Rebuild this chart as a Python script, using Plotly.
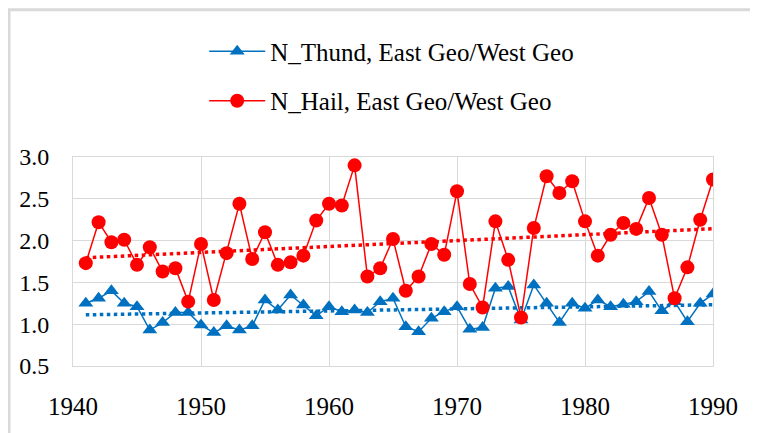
import numpy as np
import plotly.graph_objects as go

years = list(range(1941, 1991))

n_thund = [1.25, 1.31, 1.40, 1.25, 1.21, 0.93, 1.02, 1.14, 1.14, 0.99,
           0.90, 0.98, 0.93, 0.98, 1.29, 1.17, 1.35, 1.23, 1.10, 1.21,
           1.15, 1.17, 1.14, 1.27, 1.31, 0.97, 0.91, 1.07, 1.15, 1.21,
           0.94, 0.96, 1.43, 1.45, 1.05, 1.47, 1.25, 1.02, 1.25, 1.19,
           1.29, 1.21, 1.24, 1.27, 1.39, 1.16, 1.27, 1.03, 1.25, 1.36]

n_hail = [1.73, 2.22, 1.98, 2.01, 1.71, 1.92, 1.63, 1.67, 1.27, 1.96,
          1.29, 1.85, 2.44, 1.78, 2.10, 1.71, 1.74, 1.82, 2.24, 2.44,
          2.42, 2.90, 1.57, 1.67, 2.02, 1.40, 1.57, 1.96, 1.83, 2.59,
          1.48, 1.20, 2.23, 1.77, 1.08, 2.15, 2.77, 2.57, 2.71, 2.23,
          1.82, 2.07, 2.21, 2.14, 2.51, 2.07, 1.31, 1.68, 2.25, 2.73]

x_ticks = [1940, 1950, 1960, 1970, 1980, 1990]
y_ticks = [0.5, 1.0, 1.5, 2.0, 2.5, 3.0]

blue = "#0070C0"
red = "#FF0000"
font = "Times New Roman, Liberation Serif, serif"

# linear trend lines (Excel style)
yr = np.array(years)
thund_fit = np.polyval(np.polyfit(yr, n_thund, 1), yr)
hail_fit = np.polyval(np.polyfit(yr, n_hail, 1), yr)

fig = go.Figure()
fig.add_trace(go.Scatter(x=years, y=thund_fit, mode="lines",
                         line=dict(color=blue, width=3.5, dash="dot"),
                         showlegend=False, hoverinfo="skip"))
fig.add_trace(go.Scatter(x=years, y=hail_fit, mode="lines",
                         line=dict(color=red, width=3.5, dash="dot"),
                         showlegend=False, hoverinfo="skip"))
fig.add_trace(go.Scatter(x=years, y=n_thund, mode="lines+markers",
                         name="N_Thund, East Geo/West Geo",
                         legendgroup="a",
                         line=dict(color=blue, width=1.5),
                         marker=dict(symbol="triangle-up", size=13, color=blue)))
fig.add_trace(go.Scatter(x=years, y=n_hail, mode="lines+markers",
                         name="N_Hail, East Geo/West Geo",
                         legendgroup="b",
                         line=dict(color=red, width=1.5),
                         marker=dict(symbol="circle", size=14, color=red)))

# page adds an 8px body margin, so the figure is 8px smaller each way
fig.update_layout(
    width=750, height=425,
    margin=dict(l=65, r=45, t=149, b=67, autoexpand=False),
    paper_bgcolor="white", plot_bgcolor="white",
    font=dict(family=font, size=24, color="black"),
    legend=dict(x=0.205, y=1.615, xanchor="left", yanchor="top",
                font=dict(family=font, size=25),
                tracegroupgap=14, itemwidth=56,
                bgcolor="rgba(0,0,0,0)"),
    shapes=[dict(type="rect", xref="paper", yref="paper",
                 x0=-0.1, x1=1.2, y0=-0.5, y1=1.705,
                 line=dict(color="#D9D9D9", width=3))],
)
fig.update_xaxes(range=[1940, 1990], tickvals=x_ticks,
                 showgrid=True, gridcolor="#D9D9D9", gridwidth=1,
                 showline=True, linecolor="#D9D9D9", mirror=True,
                 ticks="", ticklabelstandoff=18, zeroline=False,
                 tickfont=dict(family=font, size=25))
fig.update_yaxes(range=[0.5, 3.0], tickvals=y_ticks, tickformat=".1f",
                 showgrid=True, gridcolor="#D9D9D9", gridwidth=1,
                 showline=True, linecolor="#D9D9D9", mirror=True,
                 ticks="", ticklabelstandoff=18, zeroline=False,
                 tickfont=dict(family=font, size=24))

fig.write_html("out.html")
